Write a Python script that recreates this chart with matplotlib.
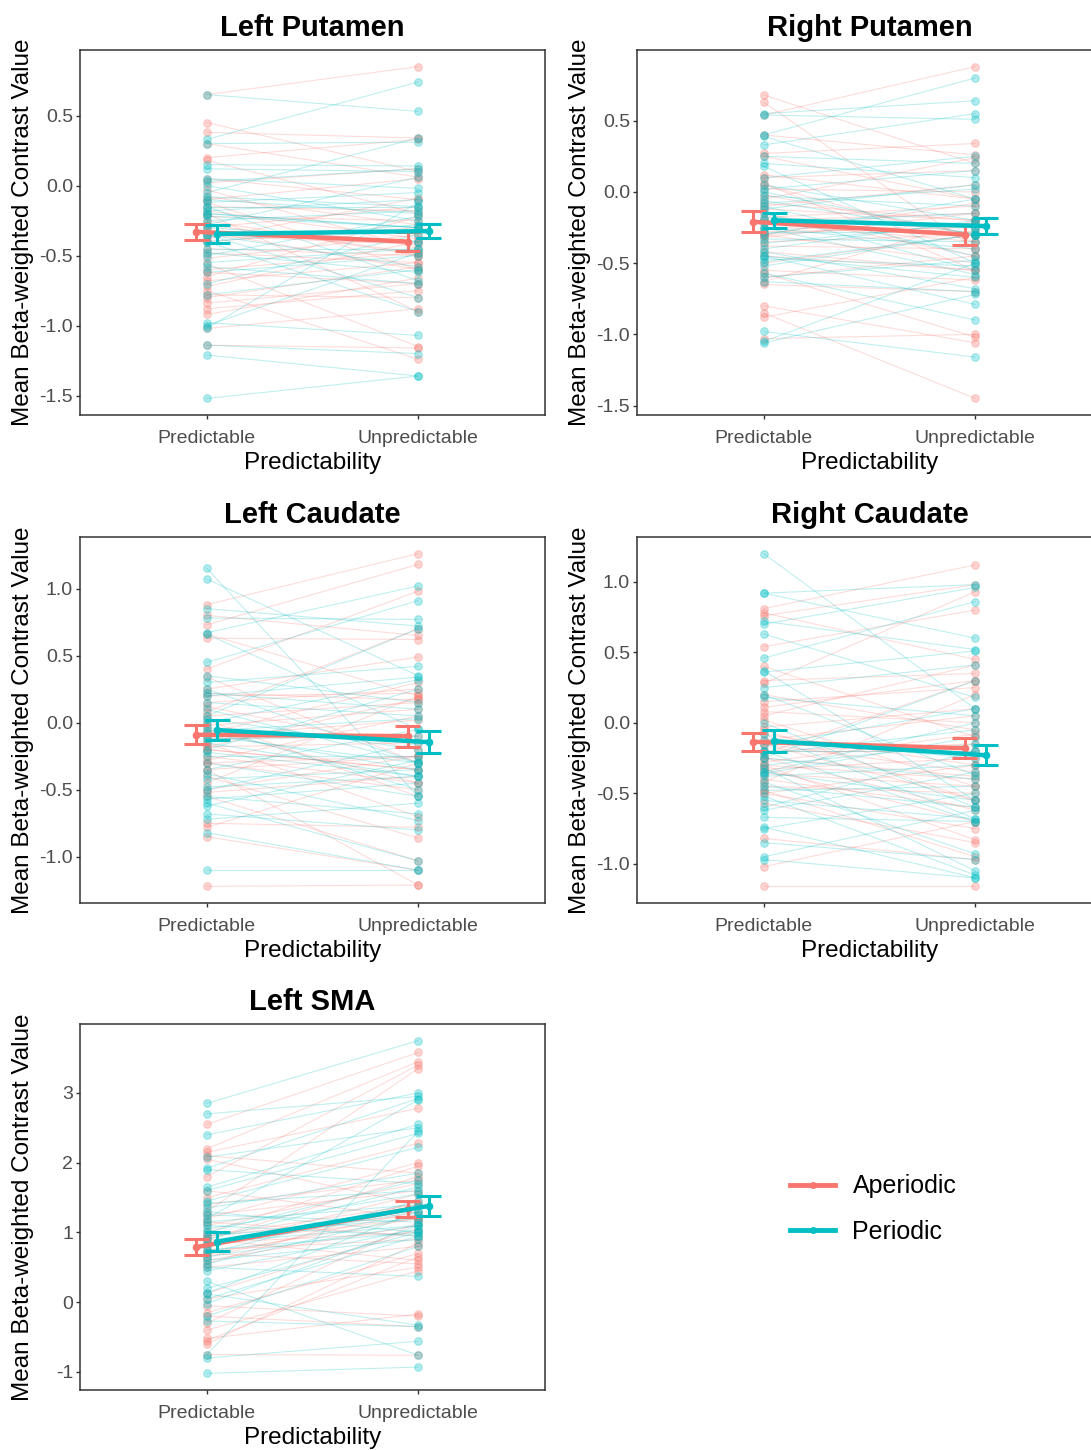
import matplotlib
matplotlib.use("Agg")
import matplotlib.pyplot as plt
from matplotlib.lines import Line2D
from matplotlib.ticker import FormatStrFormatter

plt.rcParams['font.family'] = ['Liberation Sans', 'DejaVu Sans']
plt.rcParams['axes.unicode_minus'] = False

# per-subject values (Predictable -> Unpredictable)
lp_ap_pred = [0.65, 0.45, 0.38, 0.30, 0.20, 0.18, 0.05, 0.02, -0.03, -0.08, -0.12, -0.15, -0.18, -0.20,
              -0.22, -0.25, -0.28, -0.30, -0.33, -0.36, -0.40, -0.45, -0.48, -0.52, -0.56, -0.60, -0.62,
              -0.65, -0.68, -0.72, -0.75, -0.78, -0.80, -0.84, -0.88, -0.92, -1.02, -1.14, -0.10, -0.38]
lp_ap_unpred = [0.85, 0.10, 0.34, 0.06, 0.33, -0.20, -0.10, 0.12, -0.45, -0.28, -0.60, -0.18, -0.38, -0.90,
                -0.25, -0.50, -0.48, -0.15, -0.60, -0.42, -0.30, -0.50, -0.55, -0.35, -1.15, -0.48, -0.70,
                -0.22, -0.55, -0.40, -1.24, -0.80, -0.58, -0.70, -0.75, -0.66, -0.88, -1.16, 0.05, -0.09]
lp_pe_pred = [0.65, 0.33, 0.30, 0.15, 0.12, 0.05, 0.03, 0.00, -0.05, -0.08, -0.10, -0.15, -0.18, -0.20,
              -0.22, -0.25, -0.30, -0.35, -0.40, -0.45, -0.48, -0.50, -0.55, -0.58, -0.62, -0.70, -0.78,
              -0.35, -0.20, -0.15, -0.98, -1.00, -1.02, -0.35, -0.40, -1.14, -1.21, -1.52, -0.28, -0.12]
lp_pe_unpred = [0.53, 0.74, 0.31, 0.14, 0.10, -0.02, 0.12, -0.25, 0.34, -0.15, -0.20, -0.15, -0.10, -0.30,
                -0.30, -0.18, -0.40, -0.40, -0.28, -0.45, -0.62, -0.22, -0.45, -0.70, -0.50, -0.35, -0.60,
                -0.80, -0.30, -0.68, -1.07, -0.48, -0.12, -0.58, -0.90, -1.20, -1.36, -1.36, 0.06, -0.05]

rp_ap_pred = [0.68, 0.63, 0.54, 0.27, 0.25, 0.10, 0.06, 0.02, -0.02, -0.05, -0.08, -0.12, -0.15, -0.18,
              -0.20, -0.22, -0.25, -0.28, -0.30, -0.32, -0.35, -0.38, -0.42, -0.45, -0.50, -0.55, -0.57,
              -0.60, -0.63, -0.65, -0.30, -0.80, -0.85, -0.88, -1.03, 0.12, -0.10, 0.40, -0.30, 0.05]
rp_ap_unpred = [0.20, -0.40, 0.88, 0.34, -0.05, 0.15, -0.55, 0.00, -0.30, 0.24, -0.20, -0.20, -0.45, -0.10,
                -0.15, -0.35, -0.28, -0.25, -0.50, -0.15, -0.30, -0.40, -0.55, -0.55, -0.30, -0.62, -1.02,
                -0.45, -0.20, -0.70, -0.22, -1.06, -1.45, -0.60, -1.00, -0.05, 0.05, 0.26, -0.08, -0.35]
rp_pe_pred = [0.55, 0.54, 0.40, 0.39, 0.33, 0.20, 0.18, 0.10, 0.05, 0.02, 0.00, -0.03, -0.06, -0.10,
              -0.12, -0.15, -0.18, -0.20, -0.22, -0.25, -0.28, -0.30, -0.33, -0.36, -0.40, -0.45, -0.47,
              -0.49, -0.52, -0.57, -0.60, -0.63, -0.25, -0.42, -0.45, -0.98, -1.06, -1.05, 0.25, -0.08]
rp_pe_unpred = [0.64, 0.51, 0.80, -0.05, 0.55, 0.10, -0.50, 0.25, -0.20, 0.15, -0.30, -0.10, -0.30, -0.45,
                0.05, -0.55, -0.25, -0.25, -0.15, -0.40, -0.28, -0.05, -0.35, -0.22, -0.20, -0.79, -0.52,
                -0.30, -0.30, -0.90, -0.48, -0.70, -0.58, -0.68, -0.60, -1.16, -0.72, -0.50, 0.20, 0.02]

lc_ap_pred = [0.88, 0.80, 0.73, 0.66, 0.63, 0.40, 0.34, 0.25, 0.22, 0.15, 0.12, 0.08, 0.05, 0.02,
              -0.02, -0.05, -0.08, -0.12, -0.15, -0.18, -0.20, -0.25, -0.28, -0.30, -0.35, -0.40, -0.45,
              -0.50, -0.52, -0.55, -0.18, -0.20, -0.30, -0.35, -0.75, -0.78, -0.85, -1.22, 0.20, -0.10]
lc_ap_unpred = [1.26, 0.65, 1.18, 0.20, 0.62, 0.98, -0.30, 0.49, 0.17, 0.25, -0.20, 0.70, 0.15, -0.55,
                0.10, -0.45, 0.30, -0.10, -0.70, 0.18, -0.35, -0.45, 0.05, -0.25, -0.25, -0.86, 0.20,
                -0.25, -0.40, -1.03, -0.15, -0.35, -0.50, -1.21, -0.78, -0.30, -1.10, -1.21, 0.22, 0.02]
lc_pe_pred = [1.15, 1.07, 0.85, 0.78, 0.67, 0.66, 0.45, 0.30, 0.25, 0.20, 0.15, 0.10, 0.05, 0.03,
              0.00, -0.03, -0.06, -0.10, -0.12, -0.15, -0.20, -0.22, -0.25, -0.30, -0.35, -0.38, -0.42,
              -0.48, -0.50, -0.55, -0.57, -0.60, -0.62, -0.68, -0.72, -0.82, -1.10, 0.35, -0.08, 0.22]
lc_pe_unpred = [-0.55, 0.35, 0.72, 0.77, 1.02, -0.05, 0.91, 0.42, -0.30, 0.34, 0.05, -0.30, 0.70, -0.20,
                0.32, -0.50, 0.03, -0.30, -0.10, -0.40, 0.25, -0.40, -0.25, -0.55, -0.05, -0.73, -0.35,
                -0.40, -0.15, -0.68, -0.45, -1.03, -0.28, -0.80, -0.60, -1.10, -1.10, 0.15, -0.35, 0.10]

rc_ap_pred = [0.81, 0.78, 0.76, 0.54, 0.40, 0.30, 0.28, 0.20, 0.11, 0.05, 0.02, -0.03, -0.08, -0.12,
              -0.15, -0.20, -0.25, -0.28, -0.30, -0.33, -0.36, -0.40, -0.42, -0.45, -0.48, -0.50, -0.33,
              -0.15, -0.57, -0.20, -0.25, -0.30, -0.82, -0.50, -1.02, -1.16, 0.15, -0.05, 0.08, -0.22]
rc_ap_unpred = [1.12, 0.45, 0.98, 0.80, -0.10, 0.35, 0.93, -0.05, 0.30, 0.41, -0.45, 0.10, -0.30, 0.05,
                -0.55, -0.15, -0.38, -0.08, -0.83, -0.25, -0.45, -0.60, 0.20, -0.50, -0.95, -0.30, -0.70,
                -0.35, -0.85, -0.20, -0.62, -0.40, -0.97, -0.75, -0.70, -1.16, 0.25, -0.55, 0.00, 0.30]
rc_pe_pred = [1.20, 0.92, 0.92, 0.72, 0.70, 0.63, 0.46, 0.37, 0.36, 0.20, 0.18, -0.20, -0.25, 0.00,
              -0.36, -0.08, -0.12, -0.16, -0.20, -0.25, -0.30, -0.32, -0.35, -0.38, -0.42, -0.45, -0.48,
              -0.52, -0.55, -0.62, -0.67, -0.74, -0.75, -0.85, -0.95, -0.97, 0.25, -0.35, -0.22, -0.60]
rc_pe_unpred = [0.10, 0.60, 0.98, 0.52, 0.96, 0.18, 0.86, -0.55, 0.51, -0.37, 0.05, -0.20, 0.30, -0.60,
                -0.10, -0.68, -0.25, 0.10, -0.70, -0.40, -0.15, -1.05, -0.55, -0.30, -0.93, -0.60, -0.45,
                -1.08, -0.68, -0.35, -0.70, -1.10, -0.50, -0.97, -0.62, -1.10, 0.41, 0.00, -0.05, -0.20]

sma_ap_pred = [2.55, 2.20, 2.15, 2.10, 1.80, 1.50, 1.40, 1.30, 1.25, 1.20, 1.10, 1.00, 0.95, 0.90,
               0.85, 0.80, 0.75, 0.70, 0.65, 0.60, 0.55, 0.50, 0.95, 0.90, 0.85, 0.70, 0.13, 0.05,
               -0.05, -0.15, -0.20, -0.30, -0.40, -0.52, -0.55, -0.60, -0.75, 1.60, 2.05, 1.15]
sma_ap_unpred = [3.58, 3.45, 2.78, 1.85, 3.40, 2.28, 1.75, 3.35, 1.60, 2.00, 1.70, 1.95, 1.40, 1.80,
                 1.20, 1.55, 0.90, 1.20, 1.30, 1.10, 1.45, 0.80, 1.25, 0.60, 1.00, 0.55, 1.05, 0.50,
                 -0.20, 0.70, -0.35, 1.15, 0.45, -0.17, 0.65, 0.85, -0.76, 1.20, 1.40, 0.95]
sma_pe_pred = [2.85, 2.70, 2.40, 2.08, 1.92, 1.90, 1.65, 1.60, 1.45, 1.42, 1.35, 1.30, 1.20, 1.15,
               1.10, 1.05, 1.00, 0.95, 0.90, 0.85, 0.80, 0.75, 0.70, 0.60, 0.55, 0.50, 0.45, 0.12,
               -0.02, -0.20, -0.27, 0.20, 0.05, -0.75, -0.80, -1.02, 0.13, 0.65, 1.25, 0.30]
sma_pe_unpred = [3.75, 2.95, 3.00, 2.50, 2.92, 1.70, 2.55, 2.42, 2.22, 1.60, 1.85, 1.00, 2.90, 1.40,
                 0.95, 1.55, 1.75, 1.20, 1.65, 1.10, 1.30, 1.00, 1.45, 0.90, 1.25, 0.37, 1.05, -0.33,
                 1.10, 0.80, -0.35, 1.00, 0.95, 2.45, -0.56, -0.93, 1.30, 1.10, 1.15, -0.76]

# group means and standard errors as drawn
regions = ["Left Putamen", "Right Putamen", "Left Caudate", "Right Caudate", "Left SMA"]
ap_mean_pred = [-0.33, -0.21, -0.09, -0.135, 0.79]
ap_mean_unpred = [-0.40, -0.30, -0.10, -0.18, 1.33]
pe_mean_pred = [-0.345, -0.20, -0.055, -0.13, 0.87]
pe_mean_unpred = [-0.325, -0.24, -0.145, -0.23, 1.38]
ap_se_pred = [0.057, 0.074, 0.070, 0.063, 0.115]
ap_se_unpred = [0.068, 0.070, 0.078, 0.071, 0.115]
pe_se_pred = [0.063, 0.053, 0.075, 0.077, 0.140]
pe_se_unpred = [0.050, 0.058, 0.080, 0.070, 0.143]

conditions = ["Predictable", "Unpredictable"]
groups = ["Aperiodic", "Periodic"]
yticks = [[-1.5, -1.0, -0.5, 0.0, 0.5], [-1.5, -1.0, -0.5, 0.0, 0.5],
          [-1.0, -0.5, 0.0, 0.5, 1.0], [-1.0, -0.5, 0.0, 0.5, 1.0], [-1, 0, 1, 2, 3]]

subjects = [
    ((lp_ap_pred, lp_ap_unpred), (lp_pe_pred, lp_pe_unpred)),
    ((rp_ap_pred, rp_ap_unpred), (rp_pe_pred, rp_pe_unpred)),
    ((lc_ap_pred, lc_ap_unpred), (lc_pe_pred, lc_pe_unpred)),
    ((rc_ap_pred, rc_ap_unpred), (rc_pe_pred, rc_pe_unpred)),
    ((sma_ap_pred, sma_ap_unpred), (sma_pe_pred, sma_pe_unpred)),
]

colors = ['#F8766D', '#00BFC4']
dodge = [-0.05, 0.05]

W, H = 1091, 1450
fig = plt.figure(figsize=(W / 100, H / 100), dpi=100)

# axes boxes in pixels: (left, right) and (top, bottom)
col_x = [(80, 545), (637, 1102)]
row_y = [(50, 415), (537, 903), (1024, 1390)]

for i, name in enumerate(regions):
    r, c = divmod(i, 2)
    x0, x1 = col_x[c]
    y0, y1 = row_y[r]
    ax = fig.add_axes([x0 / W, 1 - y1 / H, (x1 - x0) / W, (y1 - y0) / H])

    # individual subjects
    for g in range(2):
        pred, unpred = subjects[i][g]
        for a, b in zip(pred, unpred):
            ax.plot([1, 2], [a, b], color=colors[g], lw=0.8, alpha=0.25, zorder=1)
    for g in range(2):
        pred, unpred = subjects[i][g]
        ax.plot([1] * len(pred), pred, 'o', color=colors[g], ms=5.5, alpha=0.3, mew=0.8, zorder=2)
        ax.plot([2] * len(unpred), unpred, 'o', color=colors[g], ms=5.5, alpha=0.3, mew=0.8, zorder=2)

    # summary
    means = [(ap_mean_pred[i], ap_mean_unpred[i]), (pe_mean_pred[i], pe_mean_unpred[i])]
    ses = [(ap_se_pred[i], ap_se_unpred[i]), (pe_se_pred[i], pe_se_unpred[i])]
    for g in range(2):
        xs = [1 + dodge[g], 2 + dodge[g]]
        ax.plot(xs, means[g], color=colors[g], lw=3.2, zorder=3 + g)
        for x, m, s in zip(xs, means[g], ses[g]):
            ax.vlines(x, m - s, m + s, color=colors[g], lw=2.2, zorder=3 + g)
            ax.hlines([m - s, m + s], x - 0.06, x + 0.06, color=colors[g], lw=2.2, zorder=3 + g)
        ax.plot(xs, means[g], 'o', color=colors[g], ms=4.5, zorder=3 + g)

    ax.set_xlim(0.4, 2.6)
    ax.margins(y=0.05)
    ax.set_xticks([1, 2])
    ax.set_xticklabels(conditions)
    ax.set_yticks(yticks[i])
    if i == 4:
        ax.yaxis.set_major_formatter(FormatStrFormatter('%d'))
    else:
        ax.yaxis.set_major_formatter(FormatStrFormatter('%.1f'))
    ax.tick_params(axis='both', labelsize=14, labelcolor='#4D4D4D', color='#333333',
                   length=3, width=1)
    ax.tick_params(axis='x', pad=7.5)
    ax.tick_params(axis='y', pad=2)
    for sp in ax.spines.values():
        sp.set_color('#333333')
        sp.set_linewidth(1.1)
    ax.set_title(name, fontsize=21, fontweight='bold', pad=10)
    ax.set_xlabel("Predictability", fontsize=17.5, labelpad=4)
    ax.set_ylabel("Mean Beta-weighted Contrast Value", fontsize=17.5)
    ax.yaxis.set_label_coords(-0.099, 0.5)

handles = [Line2D([0], [0], color=colors[g], lw=3.5, marker='o', ms=4) for g in range(2)]
fig.legend(handles, groups, loc='center left', bbox_to_anchor=(790 / W, 1 - 1209 / H),
           frameon=False, fontsize=18, handlelength=1.8, handletextpad=0.7,
           labelspacing=0.85, borderpad=0, borderaxespad=0)

fig.savefig("out.png", dpi=100)
